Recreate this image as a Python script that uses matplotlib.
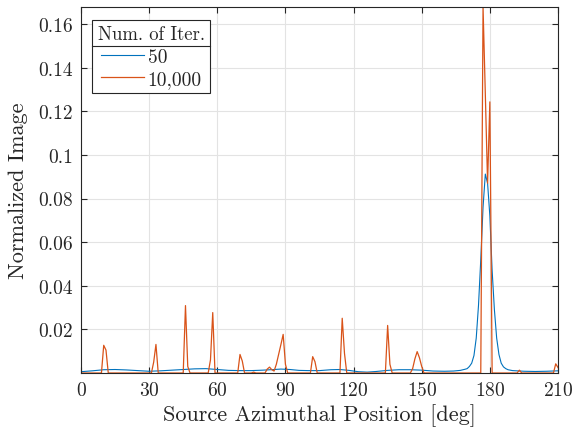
import matplotlib
matplotlib.use("Agg")
import matplotlib.pyplot as plt
from matplotlib.lines import Line2D

plt.rcParams['font.family'] = 'serif'
plt.rcParams['font.serif'] = ['cmr10', 'DejaVu Serif']
plt.rcParams['axes.formatter.use_mathtext'] = True

# ---- data ----
blue_x = [0, 5, 10, 15, 20, 25, 30, 35, 40, 45, 50, 55, 60, 65, 70, 75, 80, 85, 88, 92,
          96, 100, 105, 110, 114, 118, 122, 126, 130, 135, 140, 145, 150, 155, 160, 164,
          167, 169, 170, 171, 172, 173, 174, 175, 176, 177, 178, 179, 180, 181, 182, 183,
          184, 185, 186, 187, 188, 190, 195, 200, 205, 210]
blue_y = [0.0006, 0.0010, 0.0015, 0.0016, 0.0014, 0.0011, 0.0008, 0.0010, 0.0013, 0.0016,
          0.0019, 0.0020, 0.0016, 0.0012, 0.0011, 0.0011, 0.0013, 0.0016, 0.0018, 0.0016,
          0.0012, 0.0011, 0.0011, 0.0015, 0.0016, 0.0012, 0.0006, 0.0004, 0.0007, 0.0012,
          0.0015, 0.0015, 0.0013, 0.0009, 0.0008, 0.0009, 0.0012, 0.0017, 0.0020, 0.0030,
          0.0045, 0.0080, 0.0160, 0.0310, 0.0520, 0.0760, 0.0912, 0.0870, 0.0720, 0.0470,
          0.0290, 0.0160, 0.0085, 0.0045, 0.0028, 0.0020, 0.0015, 0.0011, 0.0008, 0.0007,
          0.0008, 0.0010]

orange_x = [0, 9, 10, 11, 12, 31, 32, 33, 34, 45, 46, 47, 48, 56, 57, 58, 59, 69, 70, 71,
            72, 75, 76, 77, 81, 82, 83, 84, 85, 86, 87, 88, 89, 90, 91, 101, 102, 103, 104,
            114, 115, 116, 117, 134, 135, 136, 137, 145, 146, 147, 148, 149, 150, 151,
            176, 177, 178, 179, 180, 181, 192, 193, 194, 208, 209, 210]
orange_y = [0, 0, 0.0127, 0.0105, 0, 0, 0.0050, 0.0131, 0, 0, 0.0309, 0.0030, 0, 0, 0.0060,
            0.0277, 0, 0, 0.0085, 0.0055, 0, 0, 0.0004, 0, 0, 0.0018, 0.0027, 0.0015, 0.0009,
            0.0040, 0.0085, 0.0130, 0.0177, 0.0040, 0, 0, 0.0075, 0.0052, 0, 0, 0.0251,
            0.0090, 0, 0, 0.0218, 0.0040, 0, 0, 0.0020, 0.0065, 0.0098, 0.0070, 0.0030, 0,
            0, 0.1678, 0.1280, 0.0870, 0.1243, 0, 0, 0.0013, 0, 0, 0.0042, 0.0025]

series_labels = ['50', '10,000']
legend_title = 'Num. of Iter.'
x_ticks = [0, 30, 60, 90, 120, 150, 180, 210]
y_ticks = [0.02, 0.04, 0.06, 0.08, 0.1, 0.12, 0.14, 0.16]
y_tick_labels = ['0.02', '0.04', '0.06', '0.08', '0.1', '0.12', '0.14', '0.16']

# ---- figure ----
fig = plt.figure(figsize=(5.74, 4.31), dpi=100)
ax = fig.add_axes([81/574, 1-374/431, (558-81)/574, (374-8)/431])

dark = '#262626'
ax.plot(blue_x, blue_y, color='#0072BD', lw=0.8, label=series_labels[0])
ax.plot(orange_x, orange_y, color='#D95319', lw=0.9, label=series_labels[1])

ax.set_xlim(0, 210)
ax.set_ylim(0, 0.1678)
ax.set_xticks(x_ticks)
ax.set_yticks(y_ticks)
ax.set_yticklabels(y_tick_labels)
ax.grid(True, color='#e3e3e3', lw=0.8)
ax.set_axisbelow(True)
ax.tick_params(direction='in', top=True, right=True, length=4, width=0.8,
               colors=dark, labelsize=14, pad=6)
for s in ax.spines.values():
    s.set_color(dark)
    s.set_linewidth(0.8)

ax.set_xlabel('Source Azimuthal Position [deg]', fontsize=16, color=dark, labelpad=3)
ax.set_ylabel('Normalized Image', fontsize=16, color=dark, labelpad=7)

leg = ax.legend(title=legend_title, loc='upper left', bbox_to_anchor=(0.0237, 0.9645),
                fancybox=False, edgecolor=dark, framealpha=1, fontsize=14,
                title_fontsize=13.5, handlelength=2.2, handletextpad=0.2,
                borderpad=0.28, labelspacing=0.22, borderaxespad=0)
leg.get_frame().set_linewidth(0.8)
leg.get_title().set_color(dark)
for t in leg.get_texts():
    t.set_color(dark)

fig.canvas.draw()
fb = leg.get_frame().get_window_extent()
tb = leg.get_title().get_window_extent()
ysep = tb.y0 - 3
inv = fig.transFigure.inverted()
p0 = inv.transform((fb.x0, ysep))
p1 = inv.transform((fb.x1, ysep))
fig.add_artist(Line2D([p0[0], p1[0]], [p0[1], p1[1]], color=dark, lw=0.8,
                      transform=fig.transFigure))

fig.savefig('out.png', dpi=100)
